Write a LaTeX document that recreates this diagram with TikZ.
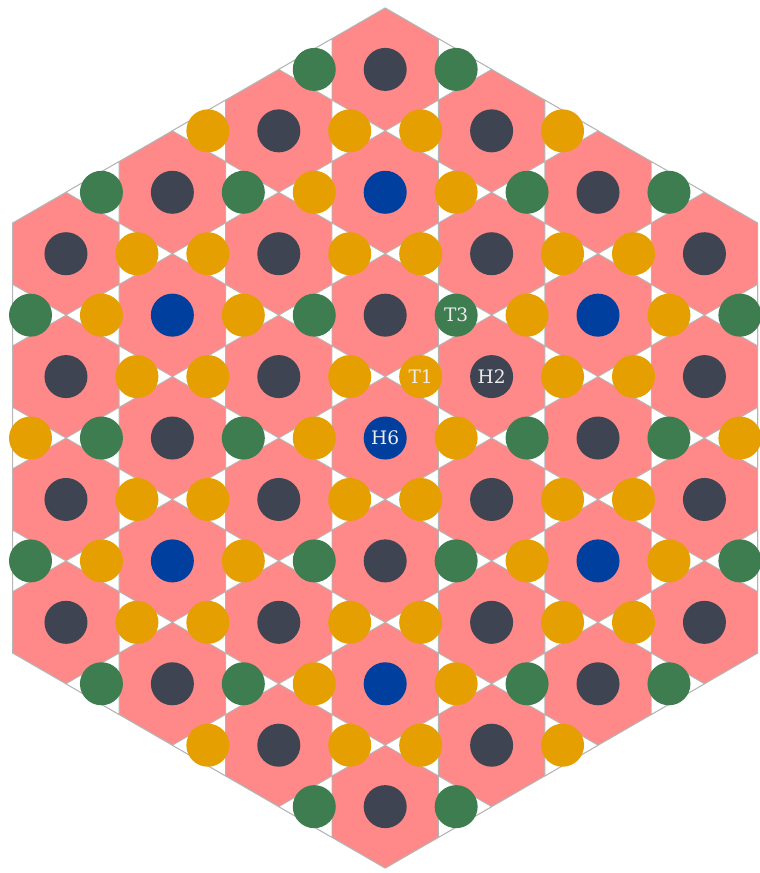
\documentclass[tikz,border=0pt]{standalone}
\usepackage{fontspec}
\setmainfont{DejaVu Serif}
\usepackage{xcolor}
\usepackage{tikz}
\usetikzlibrary{
  calc
}
\definecolor{tlPink}{HTML}{FF8888}
\definecolor{tlDark}{HTML}{3E4451}
\definecolor{tlBlue}{HTML}{003F9E}
\definecolor{tlGreen}{HTML}{3D7D4F}
\definecolor{tlOrange}{HTML}{E69F00}
\definecolor{tlLine}{HTML}{B4B4B4}

\begin{document}
\begin{tikzpicture}[x=0.57735cm, y=1cm,
  hexcell/.style={fill=tlPink},
  tricell/.style={fill=white, draw=tlLine, line width=0.4pt},
  rim/.style={draw=tlLine, line width=0.5pt},
  lbl/.style={text=white!93!black, font=\fontsize{8.6}{10}\selectfont}]
  \useasboundingbox (-6.27cm,-7.08cm) rectangle (6.09cm,7.13cm);
  % hexagons with their sites
  \foreach \rr in {-6,...,6} {
    \foreach \cc in {-3,...,3} {
      \pgfmathtruncatemacro{\ok}{iseven(\cc+\rr) && abs(\cc)+abs(\rr)<=6}
      \ifnum\ok=1
        \pgfmathtruncatemacro{\blu}{iseven(\cc) && Mod(\cc+\rr,4)==0}
        \ifnum\blu=1 \def\hue{tlBlue}\else\def\hue{tlDark}\fi
        \fill[hexcell] (3*\cc,\rr+1) -- (3*\cc+1.5,\rr+0.5) -- (3*\cc+1.5,\rr-0.5)
          -- (3*\cc,\rr-1) -- (3*\cc-1.5,\rr-0.5) -- (3*\cc-1.5,\rr+0.5) -- cycle;
        \fill[\hue] (3*\cc,\rr) circle (0.35cm);
      \fi
    }
  }
  % outer rim
  \draw[rim] (0,7) -- (10.5,3.5) -- (10.5,-3.5) -- (0,-7) -- (-10.5,-3.5) -- (-10.5,3.5) -- cycle;
  % triangles with their sites
  \foreach \rr in {-6,...,6} {
    \foreach \cc in {-4,...,4} {
      \foreach \sd in {-1,1} {
        \pgfmathtruncatemacro{\tx}{3*\cc+2*\sd}
        \pgfmathtruncatemacro{\ok}{iseven(\cc+\rr) && abs(\tx)<=10 && 3*abs(\rr)+abs(\tx)<=20}
        \ifnum\ok=1
          \pgfmathtruncatemacro{\grn}{iseven(\cc) && Mod(\cc+\rr,4)==2}
          \ifnum\grn=1 \def\hue{tlGreen}\else\def\hue{tlOrange}\fi
          \draw[tricell] (3*\cc+3*\sd,\rr) -- (3*\cc+1.5*\sd,\rr+0.5) -- (3*\cc+1.5*\sd,\rr-0.5) -- cycle;
          \fill[\hue] (\tx,\rr) circle (0.35cm);
        \fi
      }
    }
  }
  % labels
  \node[lbl] (h6) at (0,0) {H6};
  \node[lbl] (t1) at (1,1) {T1};
  \node[lbl] (h2) at (3,1) {H2};
  \node[lbl] (t3) at (2,2) {T3};
\end{tikzpicture}
\end{document}
